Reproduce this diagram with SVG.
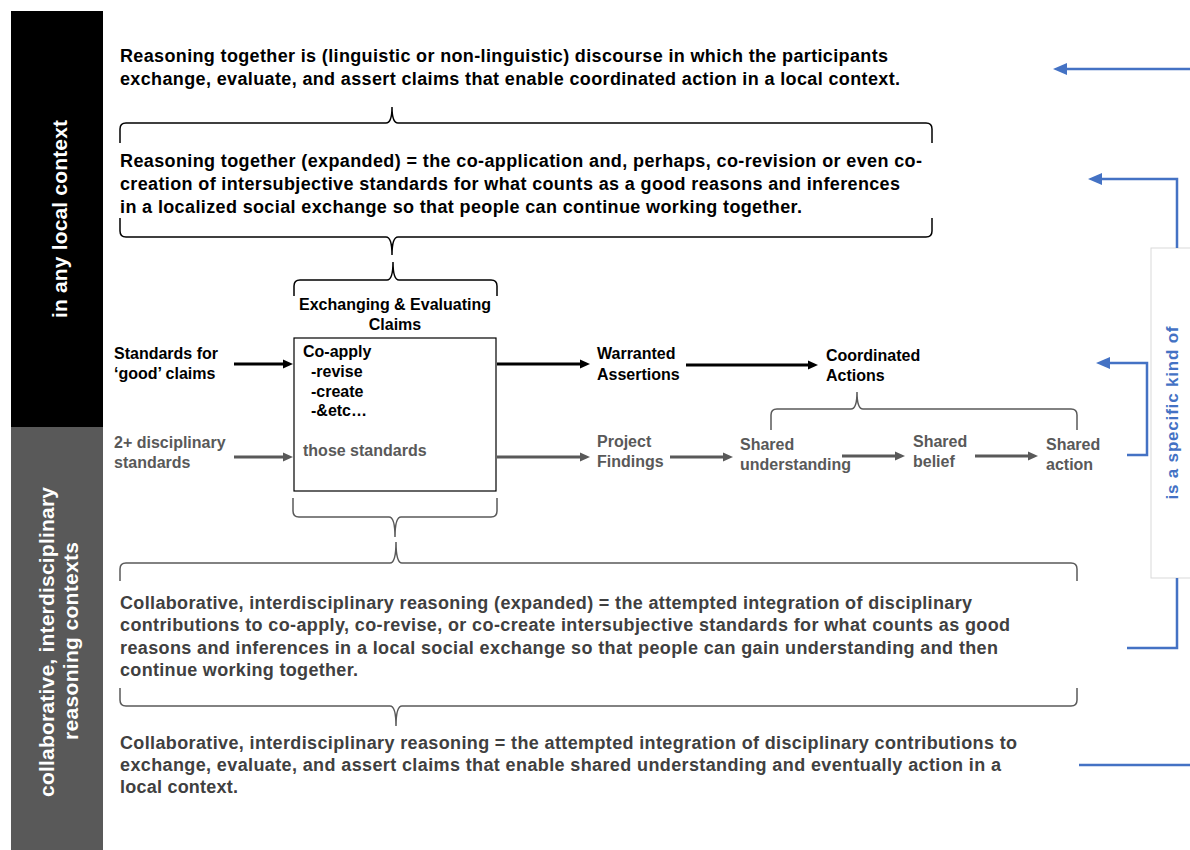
<svg xmlns="http://www.w3.org/2000/svg" width="1190" height="850" viewBox="0 0 1190 850">
<defs>
<style>
text{font-family:"Liberation Sans",Arial,sans-serif;font-weight:bold}
.p{font-size:18px}
.k{fill:#000}
.d{fill:#404040}
.g{fill:#595959}
.lab{font-size:16px}
.brk{fill:none;stroke:#000;stroke-width:1.5}
.brg{fill:none;stroke:#595959;stroke-width:1.5}
.ak{fill:none;stroke:#000;stroke-width:3;marker-end:url(#mk)}
.ag{fill:none;stroke:#595959;stroke-width:3;marker-end:url(#mg)}
.ab{fill:none;stroke:#4472C4;stroke-width:2.5}
.abm{marker-end:url(#mb)}
</style>
<marker id="mk" viewBox="0 0 10 10" refX="5" refY="5" markerWidth="10" markerHeight="10" markerUnits="userSpaceOnUse" orient="auto"><path d="M0,0.5 L10,5 L0,9.5 z" fill="#000"/></marker>
<marker id="mg" viewBox="0 0 10 10" refX="5" refY="5" markerWidth="10" markerHeight="10" markerUnits="userSpaceOnUse" orient="auto"><path d="M0,0.5 L10,5 L0,9.5 z" fill="#595959"/></marker>
<marker id="mb" viewBox="0 0 14 12" refX="8" refY="6" markerWidth="14" markerHeight="12" markerUnits="userSpaceOnUse" orient="auto"><path d="M0,0 L14,6 L0,12 z" fill="#4472C4"/></marker>
</defs>
<rect width="1190" height="850" fill="#fff"/>

<g id="bar-local">
<rect x="11" y="11" width="92" height="416" fill="#000"/>
<text transform="translate(67,219) rotate(-90)" text-anchor="middle" font-size="21" fill="#fff" textLength="198">in any local context</text>
</g>
<g id="bar-collab">
<rect x="11" y="427" width="92" height="423" fill="#595959"/>
<text transform="translate(54,642) rotate(-90)" text-anchor="middle" font-size="21" fill="#fff" textLength="310">collaborative, interdisciplinary</text>
<text transform="translate(78,641) rotate(-90)" text-anchor="middle" font-size="21" fill="#fff" textLength="198">reasoning contexts</text>
</g>

<g id="def-reasoning">
<text class="p k" x="120" y="62" textLength="768">Reasoning together is (linguistic or non-linguistic) discourse in which the participants</text>
<text class="p k" x="120" y="85" textLength="780">exchange, evaluate, and assert claims that enable coordinated action in a local context.</text>
</g>
<g id="def-reasoning-expanded">
<text class="p k" x="120" y="167" textLength="802">Reasoning together (expanded) = the co-application and, perhaps, co-revision or even co-</text>
<text class="p k" x="120" y="190" textLength="780">creation of intersubjective standards for what counts as a good reasons and inferences</text>
<text class="p k" x="120" y="213" textLength="682">in a localized social exchange so that people can continue working together.</text>
</g>

<g id="exchanging">
<text class="lab k" x="395" y="310" text-anchor="middle">Exchanging &amp; Evaluating</text>
<text class="lab k" x="395" y="330" text-anchor="middle">Claims</text>
<rect x="294" y="338" width="202" height="153" fill="#fff" stroke="#000" stroke-width="1.2"/>
<text class="lab k" x="303" y="357">Co-apply</text>
<text class="lab k" x="311" y="377">-revise</text>
<text class="lab k" x="311" y="397">-create</text>
<text class="lab k" x="311" y="416">-&amp;etc…</text>
<text class="lab g" x="303" y="456">those standards</text>
</g>

<g id="standards-good"><text class="lab k" x="114" y="359">Standards for</text><text class="lab k" x="114" y="379">‘good’ claims</text></g>
<g id="standards-disc"><text class="lab g" x="114" y="448">2+ disciplinary</text><text class="lab g" x="114" y="468">standards</text></g>
<g id="warranted"><text class="lab k" x="597" y="359">Warranted</text><text class="lab k" x="597" y="380">Assertions</text></g>
<g id="coordinated"><text class="lab k" x="826" y="361">Coordinated</text><text class="lab k" x="826" y="381">Actions</text></g>
<g id="findings"><text class="lab g" x="597" y="447">Project</text><text class="lab g" x="597" y="467">Findings</text></g>
<g id="shared-understanding"><text class="lab g" x="740" y="450">Shared</text><text class="lab g" x="740" y="470">understanding</text></g>
<g id="shared-belief"><text class="lab g" x="913" y="447">Shared</text><text class="lab g" x="913" y="467">belief</text></g>
<g id="shared-action"><text class="lab g" x="1046" y="450">Shared</text><text class="lab g" x="1046" y="470">action</text></g>

<g id="def-collab-expanded">
<text class="p d" x="120" y="609" textLength="852">Collaborative, interdisciplinary reasoning (expanded) = the attempted integration of disciplinary</text>
<text class="p d" x="120" y="631" textLength="890">contributions to co-apply, co-revise, or co-create intersubjective standards for what counts as good</text>
<text class="p d" x="120" y="654" textLength="878">reasons and inferences in a local social exchange so that people can gain understanding and then</text>
<text class="p d" x="120" y="676" textLength="238">continue working together.</text>
</g>
<g id="def-collab">
<text class="p d" x="120" y="749" textLength="897">Collaborative, interdisciplinary reasoning = the attempted integration of disciplinary contributions to</text>
<text class="p d" x="120" y="771" textLength="881">exchange, evaluate, and assert claims that enable shared understanding and eventually action in a</text>
<text class="p d" x="120" y="793" textLength="118">local context.</text>
</g>

<g id="label-kind">
<rect x="1151" y="248" width="45" height="330" fill="#fff" stroke="#d9d9d9" stroke-width="1"/>
<text transform="translate(1178,413) rotate(-90)" text-anchor="middle" font-size="17" fill="#4472C4" textLength="173">is a specific kind of</text>
</g>

<g id="connectors">
<path class="brk" d="M120,143 V129 Q120,123 126,123 H386 Q392,123 392,107 Q392,123 398,123 H926 Q932,123 932,129 V143"/>
<path class="brk" d="M120,218 V231 Q120,237 126,237 H386 Q392,237 392,255 Q392,237 398,237 H926 Q932,237 932,231 V218"/>
<path class="brk" d="M294,296 V286 Q294,280 300,280 H387 Q393,280 393,262 Q393,280 399,280 H491 Q497,280 497,286 V296"/>
<path class="brg" d="M771,430 V415 Q771,409 777,409 H851 Q857,409 857,392 Q857,409 863,409 H1071 Q1077,409 1077,415 V430"/>
<path class="brg" d="M293,498 V511 Q293,517 299,517 H389 Q395,517 395,537 Q395,517 401,517 H491 Q497,517 497,511 V498"/>
<path class="brg" d="M120,581 V569 Q120,563 126,563 H390 Q396,563 396,542 Q396,563 402,563 H1071 Q1077,563 1077,569 V581"/>
<path class="brg" d="M120,688 V700 Q120,706 126,706 H390 Q396,706 396,726 Q396,706 402,706 H1071 Q1077,706 1077,700 V688"/>

<path class="ak" d="M234,364 H288"/>
<path class="ak" d="M497,364 H585"/>
<path class="ak" d="M686,365 H813"/>
<path class="ag" d="M234,457 H288"/>
<path class="ag" d="M497,457 H585"/>
<path class="ag" d="M670,457 H728"/>
<path class="ag" d="M842,456 H900"/>
<path class="ag" d="M975,456 H1033"/>

<path class="ab abm" d="M1190,69 H1059"/>
<path class="ab abm" d="M1177,248 V179 H1094"/>
<path class="ab abm" d="M1127,455 H1147 V363 H1102"/>
<path class="ab" d="M1127,648 H1177 V578"/>
<path class="ab" d="M1079,765 H1190"/>
</g>
</svg>
